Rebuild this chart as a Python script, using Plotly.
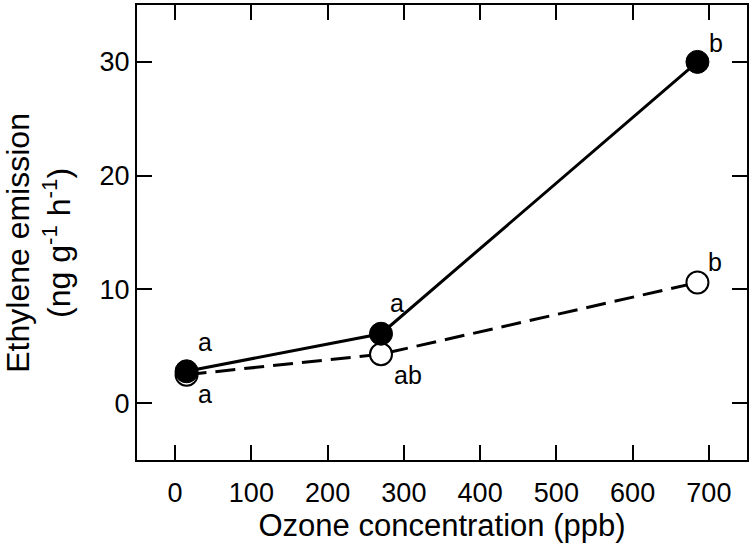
import plotly.graph_objects as go

ozone = [15, 270, 685]
filled_vals = [2.8, 6.1, 30.0]
open_vals = [2.5, 4.3, 10.6]
filled_letters = ["a", "a", "b"]
open_letters = ["a", "ab", "b"]
x_ticks = [0, 100, 200, 300, 400, 500, 600, 700]
y_ticks = [0, 10, 20, 30]

FONT = "Liberation Sans, Arial, sans-serif"

fig = go.Figure()
fig.add_trace(go.Scatter(
    x=ozone, y=open_vals, mode="lines+markers",
    line=dict(color="black", width=3, dash="20px,9px"),
    marker=dict(size=22, color="white", line=dict(color="black", width=2)),
    showlegend=False))
fig.add_trace(go.Scatter(
    x=ozone, y=filled_vals, mode="lines+markers",
    line=dict(color="black", width=3),
    marker=dict(size=23, color="black", line=dict(color="black", width=1)),
    showlegend=False))

# letter annotations (pixel offsets from each data point)
f_shifts = [(18, 29), (16, 31), (19, 19)]
o_shifts = [(18, -19), (27, -21), (18, 21)]
for x, y, t, (dx, dy) in zip(ozone, filled_vals, filled_letters, f_shifts):
    fig.add_annotation(x=x, y=y, text=t, showarrow=False, xshift=dx, yshift=dy,
                       font=dict(size=25, color="black", family=FONT))
for x, y, t, (dx, dy) in zip(ozone, open_vals, open_letters, o_shifts):
    fig.add_annotation(x=x, y=y, text=t, showarrow=False, xshift=dx, yshift=dy,
                       font=dict(size=25, color="black", family=FONT))

# y-axis title as a rotated annotation (centred slightly below the axis middle)
fig.add_annotation(xref="paper", yref="paper", x=-0.161, y=0.477,
                   text="Ethylene emission<br>(ng g<sup>-1</sup> h<sup>-1</sup>)",
                   textangle=-90, showarrow=False, xanchor="center", yanchor="middle",
                   font=dict(size=32, color="black", family=FONT))

axis_common = dict(showline=True, linecolor="black", linewidth=2, mirror="ticks",
                   ticks="inside", ticklen=15, tickwidth=2, tickcolor="black",
                   showgrid=False, zeroline=False,
                   tickfont=dict(size=27, color="black", family=FONT))

fig.update_xaxes(range=[-50, 750], tickvals=x_ticks, ticklabelstandoff=8,
                 title=dict(text="Ozone concentration (ppb)",
                            font=dict(size=31, color="black", family=FONT), standoff=0),
                 **axis_common)
fig.update_yaxes(range=[-5, 35], tickvals=y_ticks, ticklabelstandoff=0,
                 **axis_common)

fig.update_layout(width=752, height=547, margin=dict(l=137, r=3, t=3, b=87),
                  plot_bgcolor="white", paper_bgcolor="white",
                  font=dict(family=FONT, color="black"))

fig.write_html("out.html", config={"displayModeBar": False},
               post_script="document.body.style.margin='0';document.body.style.overflow='hidden';")
